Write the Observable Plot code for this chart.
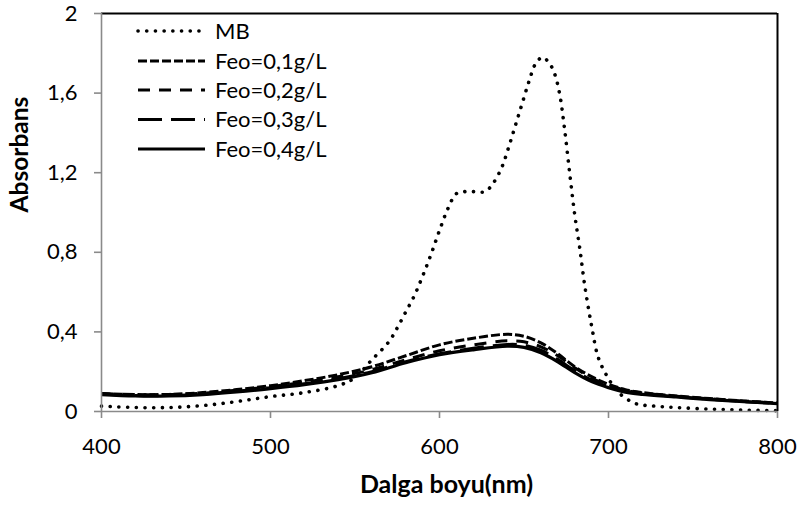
<!DOCTYPE html>
<html>
<head>
<meta charset="utf-8">
<script src="https://cdn.jsdelivr.net/npm/d3@7"></script>
<script src="https://cdn.jsdelivr.net/npm/@observablehq/plot@0.6"></script>
<style>
  html, body { margin: 0; padding: 0; background: #fff; }
  #wrap { position: relative; width: 800px; height: 506px; font-family: Lato, "Open Sans", sans-serif; }
  #wrap svg.plot text { font-family: Lato, "Open Sans", sans-serif; }
  #legend { position: absolute; left: 0; top: 0; }
</style>
</head>
<body>
<div id="wrap"></div>
<script>
// ---- data ----
const seriesNames = ["MB", "Feo=0,1g/L", "Feo=0,2g/L", "Feo=0,3g/L", "Feo=0,4g/L"];

const mbWl  = [400,420,440,460,480,500,520,540,550,560,570,575,580,585,590,595,600,605,610,615,620,627,632,637,641,645,649,653,657,661,665,668,671,674,677,680,683,686,690,694,700,706,716,726,740,760,780,800];
const mbAbs = [0.027,0.02,0.02,0.03,0.05,0.075,0.095,0.13,0.17,0.26,0.35,0.42,0.50,0.58,0.68,0.79,0.91,1.02,1.095,1.105,1.105,1.105,1.15,1.23,1.33,1.44,1.55,1.66,1.75,1.78,1.75,1.70,1.60,1.42,1.20,0.99,0.82,0.63,0.43,0.27,0.165,0.095,0.04,0.028,0.02,0.012,0.007,0.004];

const feoWl = [400,420,440,460,480,500,520,540,560,580,600,620,640,650,660,670,680,690,700,710,720,740,760,780,800];
const feo01 = [0.090,0.085,0.086,0.095,0.110,0.130,0.155,0.185,0.225,0.280,0.335,0.368,0.388,0.378,0.345,0.290,0.225,0.175,0.137,0.110,0.095,0.078,0.065,0.053,0.043];
const feo02 = [0.090,0.085,0.085,0.092,0.107,0.125,0.147,0.175,0.210,0.260,0.305,0.335,0.355,0.350,0.325,0.280,0.220,0.168,0.132,0.107,0.093,0.077,0.064,0.052,0.042];
const feo03 = [0.088,0.080,0.080,0.088,0.102,0.120,0.140,0.165,0.200,0.250,0.290,0.318,0.337,0.333,0.308,0.262,0.205,0.158,0.125,0.103,0.090,0.075,0.062,0.050,0.040];
const feo04 = [0.085,0.078,0.078,0.085,0.098,0.115,0.135,0.160,0.195,0.245,0.285,0.310,0.328,0.322,0.295,0.250,0.195,0.150,0.120,0.097,0.086,0.073,0.060,0.050,0.040];

const xTicks = [400, 500, 600, 700, 800];
const yTicks = [0, 0.4, 0.8, 1.2, 1.6, 2];
const yTickLabels = ["0", "0,4", "0,8", "1,2", "1,6", "2"];

// ---- styles per series ----
const dashes = {
  "MB": "0.1 8.6",
  "Feo=0,1g/L": "9 3",
  "Feo=0,2g/L": "12 9",
  "Feo=0,3g/L": "24 9",
  "Feo=0,4g/L": "none"
};
const caps = { "MB": "round", "Feo=0,1g/L": "butt", "Feo=0,2g/L": "butt", "Feo=0,3g/L": "butt", "Feo=0,4g/L": "butt" };
const widths = { "MB": 3.6, "Feo=0,1g/L": 3, "Feo=0,2g/L": 3, "Feo=0,3g/L": 3, "Feo=0,4g/L": 3.2 };

const tables = {
  "MB": mbWl.map((w, i) => ({ wl: w, a: mbAbs[i], s: "MB" })),
  "Feo=0,1g/L": feoWl.map((w, i) => ({ wl: w, a: feo01[i], s: "Feo=0,1g/L" })),
  "Feo=0,2g/L": feoWl.map((w, i) => ({ wl: w, a: feo02[i], s: "Feo=0,2g/L" })),
  "Feo=0,3g/L": feoWl.map((w, i) => ({ wl: w, a: feo03[i], s: "Feo=0,3g/L" })),
  "Feo=0,4g/L": feoWl.map((w, i) => ({ wl: w, a: feo04[i], s: "Feo=0,4g/L" }))
};

const lineMarks = seriesNames.slice().reverse().map(name =>
  Plot.line(tables[name], {
    x: "wl", y: "a", stroke: "black",
    strokeWidth: widths[name], strokeDasharray: dashes[name], strokeLinecap: caps[name],
    strokeLinejoin: "round", curve: "catmull-rom"
  })
);

const chart = Plot.plot({
  width: 800,
  height: 506,
  marginLeft: 101,
  marginRight: 23,
  marginTop: 13,
  marginBottom: 95,
  style: { fontFamily: "Lato, 'Open Sans', sans-serif", fontSize: "22px", color: "black", background: "white" },
  x: { domain: [400, 800] },
  y: { domain: [0, 2] },
  marks: [
    Plot.ruleY([2], { stroke: "black", strokeWidth: 1.8 }),
    Plot.ruleX([800], { stroke: "black", strokeWidth: 2 }),
    ...lineMarks,
    Plot.ruleX([400], { stroke: "#8a8a8a", strokeWidth: 1.6 }),
    Plot.ruleY([0], { stroke: "#8a8a8a", strokeWidth: 1.6 }),
    Plot.axisX({ ticks: xTicks, tickSize: 7, tickPadding: 20, stroke: "#8a8a8a", strokeWidth: 1.6, fill: "black", fontSize: 22, label: null }),
    Plot.axisY({ ticks: yTicks, tickFormat: (d) => yTickLabels[yTicks.indexOf(d)], tickSize: 7, tickPadding: 17, stroke: "#8a8a8a", strokeWidth: 1.6, fill: "black", fontSize: 22, label: null }),
    Plot.text(["Dalga boyu(nm)"], { frameAnchor: "bottom", dy: 81, dx: 7, fontWeight: "bold", fontSize: 25, fill: "black" }),
    Plot.text(["Absorbans"], { frameAnchor: "left", dx: -81, rotate: -90, fontWeight: "bold", fontSize: 24.5, fill: "black" })
  ]
});
chart.classList.add("plot");
const wrap = document.getElementById("wrap");
wrap.appendChild(chart);

// ---- legend overlay ----
const lg = d3.select(wrap).append("svg")
  .attr("id", "legend").attr("width", 800).attr("height", 506)
  .style("pointer-events", "none");
const rowY = d3.scaleOrdinal().domain(seriesNames).range([31, 61, 90, 119.5, 149]);
seriesNames.forEach(name => {
  const y = rowY(name);
  lg.append("line")
    .attr("x1", 138).attr("x2", name === "MB" ? 200 : 205)
    .attr("y1", y).attr("y2", y)
    .attr("stroke", "black").attr("stroke-width", widths[name])
    .attr("stroke-dasharray", dashes[name]).attr("stroke-linecap", caps[name]);
  lg.append("text")
    .attr("x", 215).attr("y", y).attr("dy", "0.35em")
    .attr("font-family", "Lato, 'Open Sans', sans-serif").attr("font-size", 22)
    .attr("fill", "black").text(name);
});
</script>
</body>
</html>
